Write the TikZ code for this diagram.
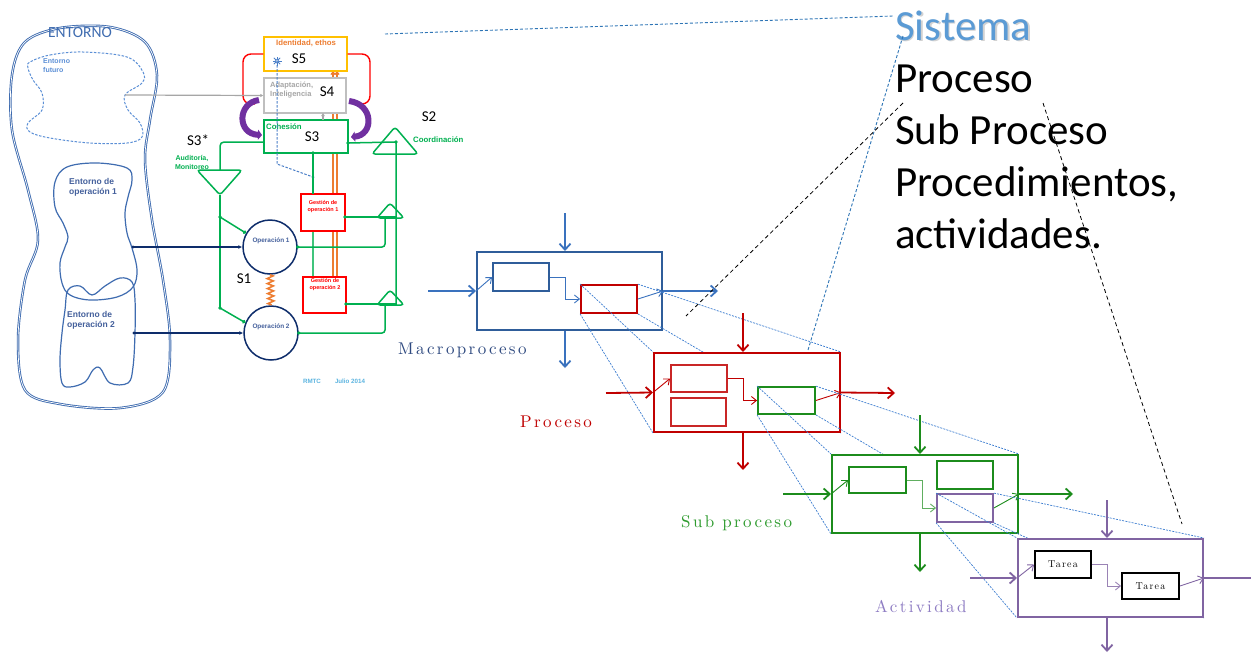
\documentclass[tikz,border=0pt]{standalone}
\usepackage{fontspec}
\usetikzlibrary{arrows.meta,calc,decorations.pathmorphing}
\newfontfamily\cfont{Carlito}
\newfontfamily\afont{Liberation Sans}
\newfontfamily\lmspaced{lmroman10-regular}[Extension=.otf, LetterSpace=14]
\newfontfamily\lmtask{lmroman10-regular}[Extension=.otf, LetterSpace=12]

\pgfdeclarelayer{canvas}
\pgfdeclarelayer{back}
\pgfdeclarelayer{stA}
\pgfdeclarelayer{pjA}
\pgfdeclarelayer{stB}
\pgfdeclarelayer{pjB}
\pgfdeclarelayer{stC}
\pgfdeclarelayer{pjC}
\pgfsetlayers{canvas,back,stA,pjA,stB,pjB,stC,pjC,main}

% viable system model colours
\definecolor{vsmgreen}{HTML}{00B050}
\definecolor{vsmred}{HTML}{FF0000}
\definecolor{vsmorange}{HTML}{ED7D31}
\definecolor{vsmgold}{HTML}{FFC000}
\definecolor{vsmgray}{HTML}{BFBFBF}
\definecolor{vsmtext}{HTML}{A6A6A6}
\definecolor{vsmpurple}{HTML}{7030A0}
\definecolor{navy}{HTML}{0E2D6B}
\definecolor{envblue}{HTML}{3F6CB0}
\definecolor{futblue}{HTML}{5B8FD6}
\definecolor{envtext}{HTML}{44609C}
\definecolor{datecol}{HTML}{5BB4E0}
\definecolor{starblue}{HTML}{4A7FC8}
% process cascade colours
\definecolor{macblue}{HTML}{2F5D9A}
\definecolor{macarrow}{HTML}{3A72BE}
\definecolor{maclabel}{HTML}{2F4A80}
\definecolor{procred}{HTML}{C00000}
\definecolor{subgreen}{HTML}{1C8C1C}
\definecolor{sublabel}{HTML}{2E9B2E}
\definecolor{actpurple}{HTML}{8064A2}
\definecolor{actlabel}{HTML}{8E7CC3}
\definecolor{projblue}{HTML}{3C7DD0}
\definecolor{sysblue}{HTML}{5B9BD5}
\definecolor{guideblue}{HTML}{2E75B6}

\begin{document}
\begin{tikzpicture}[x=1pt,y=-1pt,
  vsmbox/.style={draw, fill=white, line width=1.4pt, inner sep=0pt},
  gline/.style={draw=vsmgreen, line width=1.5pt},
  small/.style={font=\afont\bfseries\fontsize{7.8}{9}\selectfont, inner sep=0pt, align=center},
  slab/.style={font=\cfont\fontsize{15}{15}\selectfont, inner sep=0pt},
  obox/.style={draw, fill=white, line width=2pt, inner sep=0pt},
  ibox/.style={draw, fill=white, line width=1.8pt, inner sep=0pt},
  flow/.style={line width=1.8pt, -{Straight Barb[length=6pt,width=11pt]}},
  link/.style={line width=0.9pt, -{Straight Barb[length=5pt,width=8pt]}},
  proj/.style={draw=projblue, line width=0.7pt, dash pattern=on 2pt off 1.2pt},
  lbl/.style={font=\lmspaced\fontsize{17}{17}\selectfont, anchor=base west, inner sep=0pt},
  big/.style={font=\cfont\fontsize{43}{43}\selectfont, anchor=base west, inner sep=0pt},
]
\useasboundingbox (0,0) rectangle (1251,654);
\begin{pgfonlayer}{canvas}
  \fill[white] (0,0) rectangle (1251,654);
\end{pgfonlayer}

%% ================= Viable system model =================
% environment
\draw[envblue, line width=0.9pt, double=white, double distance=0.7pt]
  plot[smooth cycle, tension=0.55] coordinates {(60,28) (110,27) (145,42) (157,75) (150,120) (145,160) (152,220) (163,280) (170,340) (163,392) (120,408) (60,404) (25,390) (18,340) (25,280) (38,240) (28,190) (12,130) (12,75) (25,42)};
\draw[futblue, line width=1pt, dash pattern=on 2.5pt off 1.5pt]
  plot[smooth cycle, tension=0.6] coordinates {(30,62) (50,55) (83,52) (127,57) (143,72) (142,83) (125,95) (128,110) (140,123) (142,137) (127,143) (90,143) (50,138) (30,132) (28,123) (42,110) (42,93) (33,80) (28,68)};
\draw[envblue, line width=1.2pt]
  plot[smooth cycle, tension=0.6] coordinates {(55,182) (67,167) (97,163) (127,168) (132,180) (128,197) (125,213) (127,233) (132,248) (137,270) (133,287) (117,297) (90,300) (70,295) (62,283) (60,263) (65,247) (68,237) (63,223) (55,207)};
\draw[envblue, line width=1.2pt]
  plot[smooth cycle, tension=0.6] coordinates {(68,290) (80,286) (92,295) (105,286) (120,278) (132,282) (135,300) (135,333) (133,367) (128,383) (110,383) (100,368) (93,370) (85,382) (70,387) (62,383) (60,360) (62,333) (65,310)};

\node[font=\cfont\fontsize{15.5}{15}\selectfont, text=envblue, inner sep=0pt] (entorno) at (80,33) {ENTORNO};
\node[small, font=\afont\bfseries\fontsize{7}{9}\selectfont, text=futblue, anchor=west, align=left] (futT) at (43,66) {Entorno\\futuro};
\node[small, font=\afont\bfseries\fontsize{8.5}{10}\selectfont, text=envtext, anchor=west, align=left] (eop1T) at (69,187) {Entorno de\\operación 1};
\node[small, font=\afont\bfseries\fontsize{8.5}{10}\selectfont, text=envtext, anchor=west, align=left] (eop2T) at (67,320) {Entorno de\\operación 2};

\coordinate (futN) at (125,95);
\coordinate (eop1) at (133,247);
\coordinate (eop2) at (134,333);

% management systems
\node[vsmbox, draw=vsmgold, minimum width=83pt, minimum height=34pt] (vS5) at (305.5,54) {};
\node[vsmbox, draw=vsmgray, minimum width=82pt, minimum height=35pt] (vS4) at (305,95.5) {};
\node[vsmbox, draw=vsmgreen, minimum width=84pt, minimum height=33pt] (vS3) at (306,136.5) {};
\node[vsmbox, draw=vsmred, minimum width=44pt, minimum height=37pt] (vG1) at (323,212.5) {};
\node[vsmbox, draw=vsmred, minimum width=43pt, minimum height=36pt] (vG2) at (324.5,295) {};
\node[circle, draw=navy, fill=white, line width=1.5pt, minimum size=54pt, inner sep=0pt] (vO1) at (270,247) {};
\node[circle, draw=navy, fill=white, line width=1.5pt, minimum size=54pt, inner sep=0pt] (vO2) at (271,333) {};

\node[small, text=vsmorange] (s5T) at (306,43.5) {Identidad, ethos};
\node[slab] (s5L) at (299,59) {S5};
\node[small, font=\afont\bfseries\fontsize{7.5}{9}\selectfont, text=vsmtext, anchor=west, align=left] (s4T) at (270,90) {Adaptación,\\Inteligencia};
\node[slab] (s4L) at (327,92) {S4};
\node[small, text=vsmgreen, anchor=west] (s3T) at (266,127) {Cohesión};
\node[slab] (s3L) at (312,137) {S3};
\node[slab] (s3sL) at (198,140) {S3*};
\node[small, font=\afont\bfseries\fontsize{7}{9}\selectfont, text=vsmgreen] (audT) at (192,162) {Auditoría,\\Monitoreo};
\node[slab] (s2L) at (429,117) {S2};
\node[small, text=vsmgreen, anchor=west] (coT) at (413,140) {Coordinación};
\node[slab] (s1L) at (244,279) {S1};
\node[small, font=\afont\bfseries\fontsize{5.5}{7}\selectfont, text=vsmred] (g1T) at (323,207) {Gestión de\\operación 1};
\node[small, font=\afont\bfseries\fontsize{5.5}{7}\selectfont, text=vsmred] (g2T) at (325,285) {Gestión de\\operación 2};
\node[small, font=\afont\bfseries\fontsize{6.4}{7}\selectfont, text=envtext] (o1T) at ($(vO1)+(1,-6)$) {Operación 1};
\node[small, font=\afont\bfseries\fontsize{6.4}{7}\selectfont, text=envtext] (o2T) at ($(vO2)+(0,-6)$) {Operación 2};
\node[small, font=\afont\bfseries\fontsize{6.2}{7}\selectfont, text=datecol] (rmT) at (312,381) {RMTC};
\node[small, font=\afont\bfseries\fontsize{6.2}{7}\selectfont, text=datecol] (dtT) at (350,381) {Julio 2014};

% identity star in S5
\node[inner sep=0pt, minimum size=9pt] (star) at (277,61) {};
\foreach \a in {0,45,...,315}
  \draw[starblue, line width=0.8pt] (star.center) -- ++(\a:4.5);
\draw[starblue, fill=white, line width=0.6pt] (star.center) circle (1.6pt);

% connections hidden behind the boxes
\coordinate (oA1) at (333,277); \coordinate (oA2) at (333,71);
\coordinate (oB1) at (337,277); \coordinate (oB2) at (337,71);
\coordinate (s3B) at (313,153); \coordinate (g1Top) at (313,194);
\coordinate (g1Bot) at (313,231); \coordinate (g2Top) at (313,277);
\begin{pgfonlayer}{back}
  \draw[vsmorange, line width=1.3pt, -{Straight Barb[length=2.5pt,width=4pt]}] (oA1) -- (oA2);
  \draw[vsmorange, line width=1.3pt, -{Straight Barb[length=2.5pt,width=4pt]}] (oB1) -- (oB2);
  \draw[vsmgreen!75, line width=1.3pt] (g1Bot) -- (g2Top);
\end{pgfonlayer}

% S5 -- S4 -- S3 loops
\draw[vsmred, line width=1.4pt, rounded corners=8pt] (vS5.west) -| (243,104) -- (255,104);
\draw[vsmred, line width=1.4pt, rounded corners=8pt] (vS5.east) -| (370,104) -- (357,104);
\draw[vsmpurple, line width=6pt, -{Triangle[length=4pt,width=10pt]}] (259,100) .. controls (237,103) and (237,134) .. (262,135);
\draw[vsmpurple, line width=6pt, -{Triangle[length=4pt,width=10pt]}] (349,101) .. controls (374,104) and (374,135) .. (351,137);
\coordinate (s3Up) at (323,120); \coordinate (s4Dn) at (323,113);
\draw[vsmtext, line width=1.3pt, -{Latex[length=3pt,width=4pt]}] (s3Up) -- (s4Dn);
\draw[vsmtext, line width=1.2pt, -{Latex[length=3pt,width=3.5pt]}] (futN) -- (vS4.west);
% audit channel
\coordinate (audEnd) at (313,177);
\draw[starblue, line width=1pt, dash pattern=on 2.5pt off 1.5pt] (star.center) -- (277,164) -- (audEnd);
\fill[starblue] (audEnd) circle (1.5pt);

% S3* monitoring triangle and channels
\coordinate (tA1) at (197,170); \coordinate (tA2) at (242,170); \coordinate (tA3) at (220,195);
\coordinate (tAtop) at (220,170);
\coordinate (s3W) at (264,142);
\coordinate (lA) at (220,217); \coordinate (lB) at (220,308);
\draw[gline, rounded corners=3pt] (tA1) -- (tA2) -- (tA3) -- cycle;
\draw[gline, rounded corners=4pt] (s3W) -| (tAtop);
\draw[gline] (tA3) -- (lB);
\draw[gline, -{Circle[length=3.5pt]}] (lA) -- (vO1.150);
\draw[gline, -{Circle[length=3.5pt]}] (lB) -- (vO2.158);
\fill[vsmgreen] (lA) circle (1.8pt);
\fill[vsmgreen] (lB) circle (1.8pt);

% S3 -- operational management
\draw[gline] (s3B) -- (g1Top);
\fill[vsmgreen] (s3B) circle (1.8pt);

% S2 coordination triangles
\coordinate (tS1) at (372,154); \coordinate (tS2) at (395,127); \coordinate (tS3) at (418,154);
\coordinate (tB1) at (377,218); \coordinate (tB2) at (390,203); \coordinate (tB3) at (404,218);
\coordinate (tC1) at (377,305); \coordinate (tC2) at (390,290); \coordinate (tC3) at (404,305);
\draw[gline, rounded corners=3pt] (tS1) -- (tS2) -- (tS3) -- cycle;
\draw[gline, rounded corners=3pt] (tB1) -- (tB2) -- (tB3) -- cycle;
\draw[gline, rounded corners=3pt] (tC1) -- (tC2) -- (tC3) -- cycle;
\coordinate (s3E) at (348,143); \coordinate (s2dot) at (396,142); \coordinate (s2bot) at (396,305);
\coordinate (g1E) at (345,217); \coordinate (g2E) at (346,304);
\coordinate (o1up) at (385,218); \coordinate (o2up) at (385,305);
\draw[gline] (s3E) -- (s2dot) -- (s2bot);
\draw[gline] (g1E) -- (g1E -| s2dot);
\draw[gline] (g2E) -- (g2E -| s2dot);
\draw[gline, rounded corners=3pt] (vO1.east) -| (o1up);
\draw[gline, rounded corners=3pt] (vO2.east) -| (o2up);
\foreach \p in {s3E,s2dot,g1E,g2E,vO1.east,vO2.east}
  \fill[vsmgreen] (\p) circle (1.8pt);

% operations -- environment
\draw[navy, line width=1.6pt, -{Latex[length=4pt,width=4pt]}] (eop1) -- (vO1.west);
\draw[navy, line width=1.6pt, -{Latex[length=4pt,width=4pt]}] (eop2) -- (vO2.west);
\fill[navy] (eop1) circle (1.6pt);
\fill[navy] (eop2) circle (1.6pt);
% S1 coupling between operations
\draw[vsmorange, line width=1.6pt, decorate, decoration={zigzag, segment length=5pt, amplitude=3pt}] (vO1.south) -- (vO2.north);

%% ================= Process cascade =================
% Macroproceso
\begin{pgfonlayer}{stA}
  \node[obox, draw=macblue, minimum width=185pt, minimum height=78pt] (mac) at (569.5,291) {};
  \node[ibox, draw=macblue, minimum width=56pt, minimum height=28pt] (m1) at (521,277) {};
  \node[ibox, draw=procred, minimum width=56pt, minimum height=28pt] (m2) at (609,299) {};
  \coordinate (macIn) at (565,213); \coordinate (macOut) at (565,368);
  \coordinate (macL) at (428,291); \coordinate (macR) at (718,291);
  \draw[flow, macarrow] (macIn) -- (macIn |- mac.north);
  \draw[flow, macarrow] (macL) -- (mac.west);
  \draw[flow, macarrow] (mac.east) -- (macR);
  \draw[flow, macarrow] (macOut |- mac.south) -- (macOut);
  \draw[link, macarrow] (mac.west) -- (m1.west);
  \draw[link, macarrow] (m1.east) -- ++(16,0) |- (m2.west);
  \draw[link, macarrow] (m2.east) -- (mac.east);
\end{pgfonlayer}
\node[lbl, text=maclabel] (macT) at (398,354) {Macroproceso};

% Proceso
\begin{pgfonlayer}{stB}
  \node[obox, draw=procred, minimum width=186pt, minimum height=79pt] (pro) at (747,392.5) {};
  \node[ibox, draw=procred!85, minimum width=56pt, minimum height=27pt] (p1) at (699,378.5) {};
  \node[ibox, draw=procred!85, minimum width=55pt, minimum height=28pt] (p2) at (698.5,412) {};
  \node[ibox, draw=subgreen, minimum width=57pt, minimum height=27pt] (p3) at (786.5,400.5) {};
  \coordinate (proIn) at (743,313); \coordinate (proOut) at (743,470);
  \coordinate (proL) at (606,393); \coordinate (proR) at (895,393);
  \draw[flow, procred] (proIn) -- (proIn |- pro.north);
  \draw[flow, procred] (proL) -- (pro.west);
  \draw[flow, procred] (pro.east) -- (proR);
  \draw[flow, procred] (proOut |- pro.south) -- (proOut);
  \draw[link, procred] (pro.west) -- (p1.west);
  \draw[link, procred] (p1.east) -- ++(16,0) |- (p3.west);
  \draw[link, procred] (p3.east) -- (pro.east);
\end{pgfonlayer}
\node[lbl, text=procred] (proT) at (520,427) {Proceso};

% Sub proceso
\begin{pgfonlayer}{stC}
  \node[obox, draw=subgreen, minimum width=186pt, minimum height=78pt] (sub) at (925,494) {};
  \node[ibox, draw=subgreen, minimum width=57pt, minimum height=26pt] (q1) at (877.5,480) {};
  \node[ibox, draw=subgreen, minimum width=56pt, minimum height=28pt] (q2) at (965,475) {};
  \node[ibox, draw=actpurple, minimum width=56pt, minimum height=28pt] (q3) at (965,508) {};
  \coordinate (subIn) at (920,415); \coordinate (subOut) at (920,572);
  \coordinate (subL) at (783,494); \coordinate (subR) at (1073,494);
  \draw[flow, subgreen] (subIn) -- (subIn |- sub.north);
  \draw[flow, subgreen] (subL) -- (sub.west);
  \draw[flow, subgreen] (sub.east) -- (subR);
  \draw[flow, subgreen] (subOut |- sub.south) -- (subOut);
  \draw[link, subgreen] (sub.west) -- (q1.west);
  \draw[link, subgreen!70] (q1.east) -- ++(16,0) |- (q3.west);
  \draw[link, subgreen] (q3.east) -- (sub.east);
\end{pgfonlayer}
\node[lbl, text=sublabel] (subT) at (681,527) {Sub proceso};

% Actividad
\node[obox, draw=actpurple, minimum width=185pt, minimum height=78pt] (act) at (1110.5,578) {};
\node[ibox, draw=black, minimum width=56pt, minimum height=27pt, font=\lmtask\fontsize{10}{10}\selectfont] (t1) at (1063,564.5) {Tarea};
\node[ibox, draw=black, minimum width=57pt, minimum height=26pt, font=\lmtask\fontsize{10}{10}\selectfont] (t2) at (1150.5,586) {Tarea};
\coordinate (actIn) at (1107,500); \coordinate (actOut) at (1107,652);
\coordinate (actL) at (970,578); \coordinate (actR) at (1262,578);
\draw[flow, actpurple] (actIn) -- (actIn |- act.north);
\draw[flow, actpurple] (actL) -- (act.west);
\draw[flow, actpurple] (act.east) -- (actR);
\draw[flow, actpurple] (actOut |- act.south) -- (actOut);
\draw[link, actpurple] (act.west) -- (t1.west);
\draw[link, actpurple!80] (t1.east) -- ++(16,0) |- (t2.west);
\draw[link, actpurple] (t2.east) -- (act.east);
\node[lbl, text=actlabel] (actT) at (875,612) {Actividad};

% zoom projections between levels
\begin{pgfonlayer}{pjA}
  \foreach \c in {north west,north east,south west,south east}
    \draw[proj] (m2.\c) -- (pro.\c);
\end{pgfonlayer}
\begin{pgfonlayer}{pjB}
  \foreach \c in {north west,north east,south west,south east}
    \draw[proj] (p3.\c) -- (sub.\c);
\end{pgfonlayer}
\begin{pgfonlayer}{pjC}
  \foreach \c in {north west,north east,south west,south east}
    \draw[proj] (q3.\c) -- (act.\c);
\end{pgfonlayer}

%% ================= Levels list =================
\node[big, text=gray, opacity=0.35] (sysSh) at (896.5,41.5) {Sistema};
\node[big, text=sysblue] (sys) at (895,40) {Sistema};
\node[big] (lv1) at (895,92) {Proceso};
\node[big] (lv2) at (895,144) {Sub Proceso};
\node[big] (lv3) at (895,196) {Procedimientos,};
\node[big] (lv4) at (895,248) {actividades.};

% guide lines
\coordinate (gA1) at (385,34);  \coordinate (gA2) at (893,16);
\coordinate (gB1) at (903,36);  \coordinate (gB2) at (808,350);
\coordinate (gC1) at (903,103); \coordinate (gC2) at (686,316);
\coordinate (gD1) at (1043,103); \coordinate (gD2) at (1182,524);
\draw[guideblue, line width=0.9pt, dash pattern=on 3pt off 2pt] (gA1) -- (gA2);
\draw[guideblue, line width=0.9pt, dash pattern=on 3pt off 2pt] (gB1) -- (gB2);
\draw[black, line width=0.8pt, dash pattern=on 4pt off 3pt] (gC1) -- (gC2);
\draw[black, line width=0.8pt, dash pattern=on 4pt off 3pt] (gD1) -- (gD2);
\end{tikzpicture}
\end{document}
